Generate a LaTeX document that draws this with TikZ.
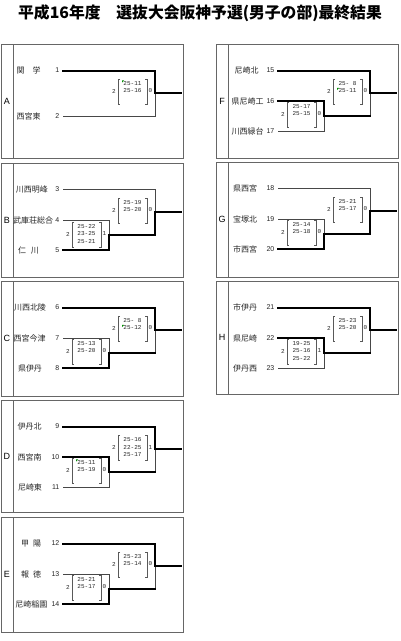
\documentclass[tikz,border=0pt]{standalone}
\usepackage{fontspec}
\setmainfont{Liberation Sans}
\newfontfamily\jp{Noto Sans CJK JP}
\newfontfamily\scf{Liberation Mono}
\tikzset{
  boxline/.style={draw=black!60,line width=0.9pt},
  win/.style={draw=black,line width=2pt,line cap=rect},
  lose/.style={draw=black!72,line width=0.8pt},
  brk/.style={draw=black!65,line width=0.6pt},
  tname/.style={font=\jp\fontsize{8}{9}\selectfont,inner sep=0pt,text=black!85},
  tnum/.style={font=\fontsize{7}{8}\selectfont,inner sep=0pt,anchor=east,text=black!85},
  letter/.style={font=\fontsize{9}{10}\selectfont,inner sep=0pt},
  score/.style={font=\scf\fontsize{6}{7}\selectfont,inner sep=0pt,text=black!85},
  snum/.style={font=\scf\fontsize{6}{7}\selectfont,inner sep=0pt,text=black!85},
  gmk/.style={fill=green!55!black}
}
\newcommand\tbox[5]{%
  \draw[boxline] (#2+1,#3) rectangle (#2+183,#4);
  \draw[boxline] (#2+13,#3) -- (#2+13,#4);
  \node[letter] (#1L) at (#2+7,{(#3+#4)/2}) {#5};
}
\newcommand\team[6]{%
  \node[tname] (#1n) at (#2+#4,#3) {#5};
  \node[tnum] (#1k) at (#2+59.5,#3) {#6};
}
% #2 = x of the bracket's vertical line, #3 = y of the middle row
\newcommand\sblock[8]{%
  \node[snum] (#1l) at (#2-41,#3) {#4};
  \node[snum] (#1r) at (#2-4.5,#3) {#8};
  \draw[brk] (#2-35,#3-12) -- (#2-37,#3-12) -- (#2-37,#3+13) -- (#2-35,#3+13);
  \draw[brk] (#2-10,#3-12) -- (#2-8,#3-12) -- (#2-8,#3+13) -- (#2-10,#3+13);
  \node[score] (#1s1) at (#2-22.5,#3-7.5) {#5};
  \node[score] (#1s2) at (#2-22.5,#3) {#6};
  \def\tmprow{#7}\ifx\tmprow\empty\else\node[score] (#1s3) at (#2-22.5,#3+7.5) {#7};\fi
}
\newcommand\gmark[2]{\fill[gmk] (#1-33,#2-3.2) -- ++(2.2,0) -- ++(-2.2,2.2) -- cycle;}
\newcommand\two[3]{%
  \coordinate (#1a) at (#2+63,#3+26.5);
  \coordinate (#1av) at (#2+155,#3+26.5);
  \coordinate (#1c) at (#2+63,#3+72);
  \coordinate (#1cv) at (#2+155,#3+72);
  \coordinate (#1oj) at (#2+155,#3+49);
  \coordinate (#1out) at (#2+181,#3+49);
  \draw[lose] (#1c)--(#1cv)--(#1oj);
  \draw[win] (#1a)--(#1av)--(#1oj)--(#1out);
}
\newcommand\three[5]{%
  \coordinate (#1a) at (#2+63,#3+26.5);
  \coordinate (#1av) at (#2+155,#3+26.5);
  \coordinate (#1b) at (#2+63,#3+57);
  \coordinate (#1bv) at (#2+109,#3+57);
  \coordinate (#1c) at (#2+63,#3+87);
  \coordinate (#1cv) at (#2+109,#3+87);
  \coordinate (#1ij) at (#2+109,#3+72);
  \coordinate (#1ijo) at (#2+155,#3+72);
  \coordinate (#1oj) at (#2+155,#3+49);
  \coordinate (#1out) at (#2+181,#3+49);
  \ifnum#5=1 \draw[lose] (#1c)--(#1cv)--(#1ij); \else \draw[lose] (#1b)--(#1bv)--(#1ij); \fi
  \ifnum#4=1 \draw[lose] (#1ijo)--(#1oj); \else \draw[lose] (#1a)--(#1av)--(#1oj); \fi
  \ifnum#5=1
    \ifnum#4=1 \draw[win] (#1b)--(#1bv)--(#1ij)--(#1ijo);
    \else \draw[win] (#1b)--(#1bv)--(#1ij)--(#1ijo)--(#1oj)--(#1out); \fi
  \else
    \ifnum#4=1 \draw[win] (#1c)--(#1cv)--(#1ij)--(#1ijo);
    \else \draw[win] (#1c)--(#1cv)--(#1ij)--(#1ijo)--(#1oj)--(#1out); \fi
  \fi
  \ifnum#4=1 \draw[win] (#1a)--(#1av)--(#1oj)--(#1out); \fi
}
\begin{document}
\begin{tikzpicture}[x=1pt,y=-1pt]
\useasboundingbox (0,0) rectangle (400,641);
\fill[white] (0,0) rectangle (400,641);
\node[font=\jp\bfseries\fontsize{15.8}{17}\selectfont,inner sep=0pt] (title) at (200,13.5) {平成16年度　選抜大会阪神予選(男子の部)最終結果};
% ---------- A
\tbox{A}{0}{44}{158}{A}
\two{A}{0}{44}
\team{A1}{0}{70.5}{28.5}{関　学}{1}
\team{A2}{0}{116}{28.5}{西宮東}{2}
\sblock{Ao}{155}{91}{2}{25-11}{25-16}{}{0}
\gmark{155}{83.5}
% ---------- B
\tbox{B}{0}{163}{277}{B}
\three{B}{0}{163}{0}{0}
\team{B1}{0}{189.5}{32}{川西明峰}{3}
\team{B2}{0}{220}{33}{武庫荘総合}{4}
\team{B3}{0}{250}{28.5}{仁\hspace{0.6em}川}{5}
\sblock{Bi}{109}{234}{2}{25-22}{23-25}{25-21}{1}
\sblock{Bo}{155}{210}{2}{25-19}{25-20}{}{0}
% ---------- C
\tbox{C}{0}{281}{396}{C}
\three{C}{0}{281}{1}{0}
\team{C1}{0}{307.5}{30}{川西北陵}{6}
\team{C2}{0}{338}{29.5}{西宮今津}{7}
\team{C3}{0}{368}{30}{県伊丹}{8}
\sblock{Ci}{109}{351}{2}{25-13}{25-20}{}{0}
\sblock{Co}{155}{328}{2}{25-\phantom{0}8}{25-12}{}{0}
\gmark{155}{328}
% ---------- D
\tbox{D}{0}{400}{512}{D}
\three{D}{0}{400}{1}{1}
\team{D1}{0}{426.5}{29.5}{伊丹北}{9}
\team{D2}{0}{457}{29.5}{西宮南}{10}
\team{D3}{0}{487}{30}{尼崎東}{11}
\sblock{Di}{109}{470}{2}{25-11}{25-19}{}{0}
\gmark{109}{462.5}
\sblock{Do}{155}{447.5}{2}{25-16}{22-25}{25-17}{1}
% ---------- E
\tbox{E}{0}{517}{632}{E}
\three{E}{0}{517}{1}{0}
\team{E1}{0}{543.5}{31}{甲\hspace{0.5em}陽}{12}
\team{E2}{0}{574}{31}{報\hspace{0.5em}徳}{13}
\team{E3}{0}{604}{31.5}{尼崎稲園}{14}
\sblock{Ei}{109}{587}{2}{25-21}{25-17}{}{0}
\sblock{Eo}{155}{564}{2}{25-23}{25-14}{}{0}
% ---------- F
\tbox{F}{215}{44}{158}{F}
\three{F}{215}{44}{1}{1}
\team{F1}{215}{70.5}{31.5}{尼崎北}{15}
\team{F2}{215}{101}{32.5}{県尼崎工}{16}
\team{F3}{215}{131}{32.5}{川西緑台}{17}
\sblock{Fi}{324}{114}{2}{25-17}{25-15}{}{0}
\sblock{Fo}{370}{91}{2}{25-\phantom{0}8}{25-11}{}{0}
\gmark{370}{91}
% ---------- G
\tbox{G}{215}{162}{277}{G}
\three{G}{215}{162}{0}{0}
\team{G1}{215}{188.5}{30}{県西宮}{18}
\team{G2}{215}{219}{30}{宝塚北}{19}
\team{G3}{215}{249}{30}{市西宮}{20}
\sblock{Gi}{324}{232}{2}{25-14}{25-18}{}{0}
\sblock{Go}{370}{209}{2}{25-21}{25-17}{}{0}
% ---------- H
\tbox{H}{215}{281}{394}{H}
\three{H}{215}{281}{1}{1}
\team{H1}{215}{307.5}{30}{市伊丹}{21}
\team{H2}{215}{338}{30}{県尼崎}{22}
\team{H3}{215}{368}{30}{伊丹西}{23}
\sblock{Hi}{324}{351}{2}{19-25}{25-16}{25-22}{1}
\sblock{Ho}{370}{328}{2}{25-23}{25-20}{}{0}
\end{tikzpicture}
\end{document}
